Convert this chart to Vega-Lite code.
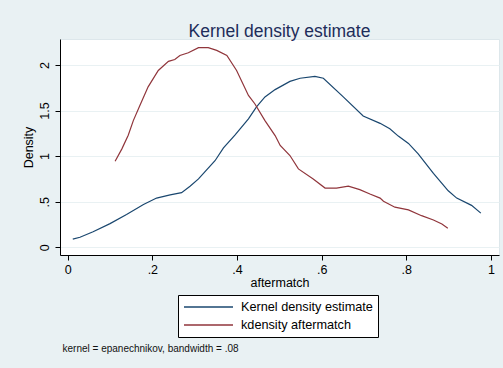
{
  "$schema": "https://vega.github.io/schema/vega-lite/v6.json",
  "width": 439,
  "height": 216,
  "autosize": "none",
  "padding": {"left": 60, "top": 39, "right": 4, "bottom": 113},
  "background": "#E9F1F3",
  "config": {
    "font": "Liberation Sans",
    "view": {"fill": "white", "stroke": "#DDE7EB"}
  },
  "title": {
    "text": "Kernel density estimate",
    "fontSize": 17.5,
    "fontWeight": "normal",
    "color": "#1E2D5A",
    "anchor": "middle",
    "frame": "group",
    "offset": -1
  },
  "data": {
    "values": [
      {"series": "Kernel density estimate", "x": 0.012, "y": 0.09},
      {"series": "Kernel density estimate", "x": 0.029, "y": 0.11},
      {"series": "Kernel density estimate", "x": 0.060, "y": 0.17},
      {"series": "Kernel density estimate", "x": 0.100, "y": 0.26},
      {"series": "Kernel density estimate", "x": 0.139, "y": 0.36},
      {"series": "Kernel density estimate", "x": 0.179, "y": 0.47},
      {"series": "Kernel density estimate", "x": 0.210, "y": 0.54},
      {"series": "Kernel density estimate", "x": 0.242, "y": 0.575},
      {"series": "Kernel density estimate", "x": 0.269, "y": 0.60},
      {"series": "Kernel density estimate", "x": 0.289, "y": 0.67},
      {"series": "Kernel density estimate", "x": 0.309, "y": 0.75},
      {"series": "Kernel density estimate", "x": 0.348, "y": 0.95},
      {"series": "Kernel density estimate", "x": 0.368, "y": 1.09},
      {"series": "Kernel density estimate", "x": 0.395, "y": 1.23},
      {"series": "Kernel density estimate", "x": 0.427, "y": 1.41},
      {"series": "Kernel density estimate", "x": 0.446, "y": 1.54},
      {"series": "Kernel density estimate", "x": 0.466, "y": 1.65},
      {"series": "Kernel density estimate", "x": 0.490, "y": 1.73},
      {"series": "Kernel density estimate", "x": 0.525, "y": 1.82},
      {"series": "Kernel density estimate", "x": 0.549, "y": 1.855},
      {"series": "Kernel density estimate", "x": 0.584, "y": 1.875},
      {"series": "Kernel density estimate", "x": 0.604, "y": 1.855},
      {"series": "Kernel density estimate", "x": 0.651, "y": 1.65},
      {"series": "Kernel density estimate", "x": 0.698, "y": 1.44},
      {"series": "Kernel density estimate", "x": 0.738, "y": 1.36},
      {"series": "Kernel density estimate", "x": 0.761, "y": 1.30},
      {"series": "Kernel density estimate", "x": 0.781, "y": 1.22},
      {"series": "Kernel density estimate", "x": 0.805, "y": 1.14},
      {"series": "Kernel density estimate", "x": 0.828, "y": 1.025},
      {"series": "Kernel density estimate", "x": 0.864, "y": 0.81},
      {"series": "Kernel density estimate", "x": 0.899, "y": 0.62},
      {"series": "Kernel density estimate", "x": 0.919, "y": 0.54},
      {"series": "Kernel density estimate", "x": 0.954, "y": 0.46},
      {"series": "Kernel density estimate", "x": 0.976, "y": 0.375},
      {"series": "kdensity aftermatch", "x": 0.112, "y": 0.945},
      {"series": "kdensity aftermatch", "x": 0.128, "y": 1.08},
      {"series": "kdensity aftermatch", "x": 0.143, "y": 1.23},
      {"series": "kdensity aftermatch", "x": 0.155, "y": 1.39},
      {"series": "kdensity aftermatch", "x": 0.171, "y": 1.56},
      {"series": "kdensity aftermatch", "x": 0.190, "y": 1.76},
      {"series": "kdensity aftermatch", "x": 0.214, "y": 1.94},
      {"series": "kdensity aftermatch", "x": 0.238, "y": 2.04},
      {"series": "kdensity aftermatch", "x": 0.253, "y": 2.06},
      {"series": "kdensity aftermatch", "x": 0.265, "y": 2.105},
      {"series": "kdensity aftermatch", "x": 0.285, "y": 2.135},
      {"series": "kdensity aftermatch", "x": 0.309, "y": 2.19},
      {"series": "kdensity aftermatch", "x": 0.332, "y": 2.19},
      {"series": "kdensity aftermatch", "x": 0.352, "y": 2.16},
      {"series": "kdensity aftermatch", "x": 0.376, "y": 2.105},
      {"series": "kdensity aftermatch", "x": 0.399, "y": 1.94},
      {"series": "kdensity aftermatch", "x": 0.427, "y": 1.666},
      {"series": "kdensity aftermatch", "x": 0.442, "y": 1.575},
      {"series": "kdensity aftermatch", "x": 0.466, "y": 1.39},
      {"series": "kdensity aftermatch", "x": 0.490, "y": 1.226},
      {"series": "kdensity aftermatch", "x": 0.502, "y": 1.117},
      {"series": "kdensity aftermatch", "x": 0.525, "y": 1.007},
      {"series": "kdensity aftermatch", "x": 0.545, "y": 0.86},
      {"series": "kdensity aftermatch", "x": 0.580, "y": 0.75},
      {"series": "kdensity aftermatch", "x": 0.608, "y": 0.65},
      {"series": "kdensity aftermatch", "x": 0.635, "y": 0.65},
      {"series": "kdensity aftermatch", "x": 0.663, "y": 0.67},
      {"series": "kdensity aftermatch", "x": 0.690, "y": 0.633},
      {"series": "kdensity aftermatch", "x": 0.714, "y": 0.585},
      {"series": "kdensity aftermatch", "x": 0.738, "y": 0.54},
      {"series": "kdensity aftermatch", "x": 0.746, "y": 0.505},
      {"series": "kdensity aftermatch", "x": 0.773, "y": 0.44},
      {"series": "kdensity aftermatch", "x": 0.805, "y": 0.41},
      {"series": "kdensity aftermatch", "x": 0.836, "y": 0.347},
      {"series": "kdensity aftermatch", "x": 0.864, "y": 0.30},
      {"series": "kdensity aftermatch", "x": 0.884, "y": 0.256},
      {"series": "kdensity aftermatch", "x": 0.898, "y": 0.21}
    ]
  },
  "layer": [
    {
      "mark": {"type": "line", "strokeWidth": 1.2},
      "encoding": {
        "x": {
          "field": "x",
          "type": "quantitative",
          "scale": {"domain": [-0.0182, 1.0189], "nice": false, "zero": false},
          "axis": {
            "title": "aftermatch",
            "values": [0, 0.2, 0.4, 0.6, 0.8, 1],
            "labelExpr": "datum.value == 0 ? '0' : datum.value == 1 ? '1' : replace(format(datum.value, '.1f'), '0.', '.')",
            "grid": false,
            "tickSize": 5,
            "tickColor": "#000",
            "domainColor": "#000",
            "labelColor": "#000",
            "labelFontSize": 12.5,
            "labelPadding": 3,
            "titleFontSize": 12.5,
            "titleFontWeight": "normal",
            "titleColor": "#000",
            "titlePadding": 1
          }
        },
        "y": {
          "field": "y",
          "type": "quantitative",
          "scale": {"domain": [-0.0844, 2.2853], "nice": false, "zero": false},
          "axis": {
            "title": "Density",
            "values": [0, 0.5, 1, 1.5, 2],
            "labelExpr": "datum.value == 0.5 ? '.5' : format(datum.value, '~g')",
            "labelAngle": 270,
            "grid": true,
            "gridColor": "#E9F1F3",
            "gridWidth": 1,
            "tickSize": 5,
            "tickColor": "#000",
            "domainColor": "#000",
            "labelColor": "#000",
            "labelFontSize": 12.5,
            "labelPadding": 4,
            "titleFontSize": 12.5,
            "titleFontWeight": "normal",
            "titleColor": "#000",
            "titlePadding": 3
          }
        },
        "color": {
          "field": "series",
          "type": "nominal",
          "scale": {
            "domain": ["Kernel density estimate", "kdensity aftermatch"],
            "range": ["#1A476F", "#90353B"]
          },
          "legend": {
            "title": null,
            "orient": "none",
            "legendX": 118,
            "legendY": 256,
            "direction": "vertical",
            "symbolType": "stroke",
            "symbolSize": 2400,
            "symbolStrokeWidth": 1.3,
            "labelFontSize": 12.7,
            "labelColor": "#000",
            "labelOffset": 7,
            "labelLimit": 300,
            "padding": 5,
            "strokeColor": "#000",
            "fillColor": "#fff",
            "cornerRadius": 0,
            "clipHeight": 14,
            "rowPadding": 4
          }
        }
      }
    },
    {
      "mark": {"type": "point", "opacity": 0},
      "encoding": {
        "x": {
          "field": "x",
          "type": "quantitative",
          "axis": {
            "orient": "bottom",
            "title": "kernel = epanechnikov, bandwidth = .08",
            "labels": false,
            "ticks": false,
            "domain": false,
            "grid": false,
            "titleFontSize": 10,
            "titleFontWeight": "normal",
            "titleColor": "#111",
            "titleAnchor": "start",
            "titleAlign": "left",
            "titleBaseline": "middle",
            "titleX": 2,
            "titleY": 93
          }
        }
      }
    }
  ],
  "resolve": {"axis": {"x": "independent"}}
}
